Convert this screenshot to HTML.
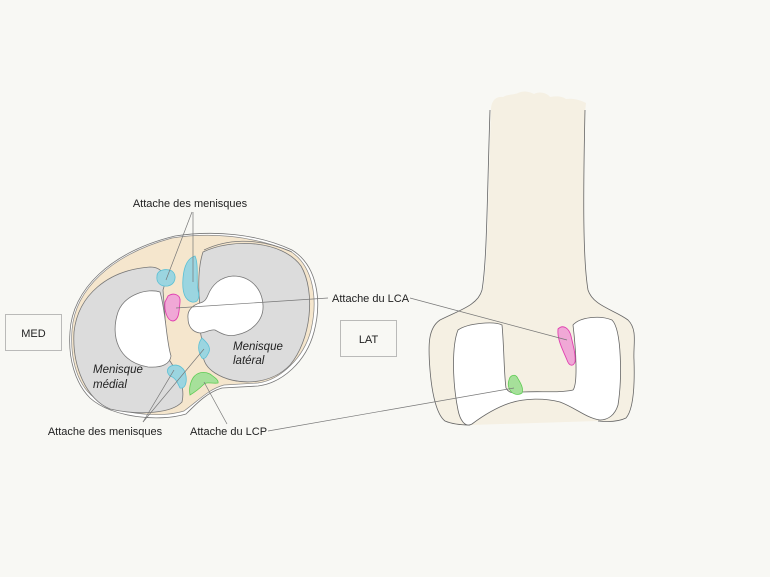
<!DOCTYPE html>
<html><head><meta charset="utf-8"><style>
html,body{margin:0;padding:0;background:#f8f8f4;}
svg{display:block;}
text{font-family:"Liberation Sans",sans-serif;font-size:11px;fill:#222;}
.it{font-style:italic;font-size:11.5px;}
</style></head><body>
<svg width="770" height="577" viewBox="0 0 770 577" xmlns="http://www.w3.org/2000/svg">
<rect width="770" height="577" fill="#f8f8f4"/>
<!-- tibia plateau -->
<path d="M70,332 C72,290 110,252 175,236 C215,230 258,234 292,250 C318,266 322,302 314,332 C306,362 282,383 258,386 L222,388 C208,392 198,402 186,414 C160,422 112,418 90,398 C75,383 68,358 70,332Z" fill="#fff" stroke="#777" stroke-width="0.8"/>
<path d="M72,330 C75,290 110,255 172,238 C212,232 252,236 290,251 C314,266 318,300 311,330 C304,358 280,380 258,383 L224,385 C209,389 199,400 184,411 C158,419 112,414 91,395 C76,381 70,356 72,330Z" fill="#f5e6cd" stroke="#888" stroke-width="0.7"/>
<!-- medial meniscus -->
<path d="M74,332 C78,295 108,270 150,267 C162,267 168,276 163,290 L168,358 C176,370 186,385 182,402 C172,413 140,416 110,409 C86,399 72,366 74,332Z" fill="#dcdcdc" stroke="#777" stroke-width="0.8"/>
<path d="M160,292 C148,288 125,294 118,312 C110,336 118,362 148,367 C162,368 170,364 171,356 C166,340 166,312 160,292Z" fill="#fff" stroke="#777" stroke-width="0.8"/>
<!-- lateral meniscus -->
<path d="M203,252 C232,238 282,240 301,266 C316,292 311,340 290,365 C270,386 235,386 215,373 C204,366 201,356 204,345 C200,336 199,326 202,318 C198,300 197,270 203,252Z" fill="#dcdcdc" stroke="#777" stroke-width="0.8"/>
<path d="M200,303 C193,305 187,310 188,318 C188,326 192,332 200,333 C206,333 210,329 215,330 C222,334 228,337 236,335 C252,332 264,320 263,305 C262,288 250,276 233,276 C220,277 212,285 208,295 C206,300 204,302 200,303Z" fill="#fff" stroke="#777" stroke-width="0.8"/>
<path d="M204,250 C225,240 255,236 292,252" fill="none" stroke="#777" stroke-width="0.7"/>
<!-- attachments -->
<path d="M157,276 C157,270 166,268 172,271 C177,275 176,284 168,286 C160,287 156,282 157,276Z" fill="#9bd5e0" stroke="#5bc0d5" stroke-width="0.8"/>
<path d="M195,256 C199,265 196,280 198,290 C200,298 198,303 192,302 C184,300 182,290 183,278 C184,266 188,258 195,256Z" fill="#9bd5e0" stroke="#5bc0d5" stroke-width="0.8"/>
<path d="M168,296 C174,292 181,295 180,302 C179,312 179,320 173,321 C167,321 164,310 165,302 Z" fill="#f0a8d6" stroke="#e040b0" stroke-width="0.9"/>
<path d="M202,338 C206,342 211,346 209,352 C207,356 205,360 202,358 C198,352 197,344 202,338Z" fill="#9bd5e0" stroke="#5bc0d5" stroke-width="0.8"/>
<path d="M171,366 C178,363 185,368 186,376 C187,383 185,389 180,388 C177,382 176,378 170,376 C166,372 167,368 171,366Z" fill="#9bd5e0" stroke="#5bc0d5" stroke-width="0.8"/>
<path d="M193,378 C197,372 204,371 210,374 C214,377 219,380 218,383 C212,384 206,381 203,385 C199,389 195,392 190,395 C189,389 190,383 193,378Z" fill="#a6e09a" stroke="#5fcc55" stroke-width="0.8"/>
<!-- femur -->
<path d="M491,110 C491,102 495,96 503,97 C508,94 514,95 518,93 C524,90 530,92 534,94 C540,91 547,93 550,97 C556,96 562,96 566,99 C574,98 580,100 586,103 L585,112 C583,200 583,260 588,290 C593,306 615,310 628,320 C638,330 633,345 634,360 C635,390 633,410 626,418 C615,422 605,422 598,421 L470,425 C460,426 450,424 444,420 C437,412 432,392 430,370 C428,345 428,328 440,320 C460,310 478,305 483,290 C488,260 488,200 491,110Z" fill="#f5f0e3"/>
<path d="M490,110 C487,200 487,260 482,290 C478,305 460,310 440,320 C428,328 428,345 430,370 C432,395 437,415 445,421 C452,424 460,425 470,425" fill="none" stroke="#666" stroke-width="0.8"/>
<path d="M585,110 C583,200 583,260 588,290 C593,306 615,310 628,320 C638,330 633,345 634,360 C635,390 633,410 626,418 C618,422 608,422 598,421" fill="none" stroke="#666" stroke-width="0.8"/>
<path d="M458,330 C468,323 494,321 502,325 C504,345 504,375 506,388 C509,394 515,393 522,392 C540,391 560,393 573,390 C578,384 576,350 573,325 C580,317 600,315 612,320 C622,330 622,380 618,405 C615,415 608,420 600,420 C586,418 576,408 560,402 C545,398 525,398 510,403 C495,408 480,418 472,424 C465,428 460,420 458,410 C452,380 452,345 458,330Z" fill="#fff" stroke="#666" stroke-width="0.8"/>
<path d="M558,329 C563,324 569,328 571,336 C573,345 576,355 575,362 C573,367 569,366 567,360 C563,350 557,340 558,329Z" fill="#f0a8d6" stroke="#e040b0" stroke-width="0.9"/>
<path d="M509,380 C510,375 515,374 517,377 C520,382 524,388 522,393 C518,396 512,394 510,390 C508,387 508,383 509,380Z" fill="#a6e09a" stroke="#5fcc55" stroke-width="0.8"/>
<!-- leader lines -->
<g stroke="#777" stroke-width="0.7" fill="none">
<line x1="192" y1="212" x2="166" y2="280"/>
<line x1="193" y1="212" x2="193" y2="282"/>
<line x1="328" y1="298" x2="176" y2="308"/>
<line x1="410" y1="298" x2="567" y2="340"/>
<line x1="143" y1="422" x2="174" y2="370"/>
<line x1="143" y1="422" x2="204" y2="349"/>
<line x1="227" y1="424" x2="204" y2="382"/>
<line x1="268" y1="431" x2="514" y2="388"/>
</g>
<!-- boxes -->
<rect x="5.5" y="314.5" width="56" height="36" fill="none" stroke="#aaa" stroke-width="0.8"/>
<rect x="340.5" y="320.5" width="56" height="36" fill="none" stroke="#aaa" stroke-width="0.8"/>
<text x="33.5" y="337" text-anchor="middle">MED</text>
<text x="368.5" y="343" text-anchor="middle">LAT</text>
<text x="190" y="207" text-anchor="middle" font-size="11">Attache des menisques</text>
<text x="332" y="302">Attache du LCA</text>
<text x="105" y="435" text-anchor="middle">Attache des menisques</text>
<text x="190" y="435">Attache du LCP</text>
<text x="233" y="350" class="it">Menisque</text>
<text x="233" y="364" class="it">latéral</text>
<text x="93" y="373" class="it">Menisque</text>
<text x="93" y="388" class="it">médial</text>
</svg>
</body></html>
